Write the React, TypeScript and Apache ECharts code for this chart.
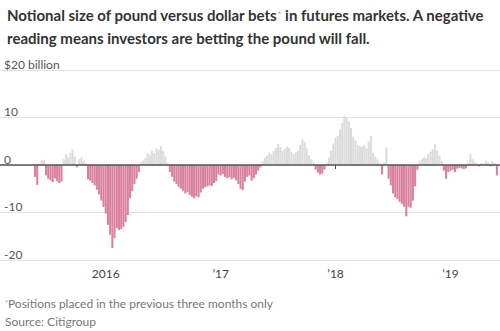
import React, { useEffect, useRef } from "react";
import * as echarts from "echarts";

const START_DATE = "2015-05-26";
const values: number[] = [
  -2.5, -4.2, 0.3, 1.0, 1.1, -2.2, -2.9, -3.2, -3.6, -2.8,
  -3.4, -3.8, -3.5, 1.2, 2.3, 1.6, 2.6, 3.3, 1.8, -0.5,
  1.2, 1.6, 0.9, 0.3, -3.0, -3.3, -3.8, -4.3, -5.2, -6.2,
  -7.5, -8.8, -10.2, -12.6, -14.7, -17.5, -15.4, -13.3, -13.7, -13.5,
  -13.0, -12.0, -10.5, -7.0, -5.5, -4.0, -2.9, -1.5, 0.6, 1.0,
  1.5, 2.5, 2.0, 3.0, 2.5, 3.5, 3.2, 4.0, 3.0, 1.8,
  0.5, -1.5, -2.5, -3.5, -4.0, -4.6, -5.0, -5.4, -6.0, -5.7,
  -6.3, -6.7, -7.0, -6.6, -6.8, -5.8, -5.0, -4.7, -4.5, -4.3,
  -4.4, -3.8, -3.4, -2.0, -2.2, -1.9, -2.5, -2.8, -2.6, -3.0,
  -2.7, -3.2, -4.0, -5.0, -5.3, -3.5, -2.5, -2.2, -3.3, -2.8,
  -2.0, -1.2, -0.5, 0.8, 1.6, 2.0, 2.6, 2.3, 3.0, 3.6,
  4.4, 3.8, 3.0, 3.4, 3.9, 3.6, 2.8, 2.3, 2.6, 3.0,
  4.2, 5.4, 4.8, 3.5, 2.0, 1.2, 0.5, -1.0, -1.6, -2.0,
  -1.8, -1.0, 0.5, 1.6, 3.0, 4.5, 5.8, 6.1, 7.5, 8.8,
  10.3, 10.0, 9.2, 7.8, 6.0, 5.2, 4.2, 4.0, 3.8, 4.2,
  3.5, 5.0, 6.1, 2.6, 1.8, 1.2, 0.4, -2.0, 0.5, 3.7,
  -2.9, -4.3, -6.0, -6.8, -7.2, -7.8, -8.2, -8.8, -10.8, -8.8,
  -9.0, -7.5, -4.5, -1.0, 0.9, 1.2, 1.6, 1.4, 2.3, 2.8,
  3.3, 4.4, 3.0, 2.0, 0.9, -1.2, -2.9, -1.5, -1.2, -1.0,
  -1.5, -0.8, -0.6, -0.7, -0.9, -0.7, 0.5, 2.3, 1.2, 0.6,
  0.3, -0.3, 0.4, 0.3, 0.9, 0.5, -0.3, 0.9, 0.4, -2.2,
];
const yTicks = [-20, -10, 0, 10, 20];
const TITLE_LINES = [
  "Notional size of pound versus dollar bets{sup|*} in futures markets. A negative",
  "reading means investors are betting the pound will fall.",
];
const FOOTNOTE = "{sup|*}Positions placed in the previous three months only";
const SOURCE = "Source: Citigroup";

const weeks: string[] = (() => {
  const out: string[] = [];
  const d0 = new Date(START_DATE + "T00:00:00Z").getTime();
  for (let i = 0; i < values.length; i++) {
    out.push(new Date(d0 + i * 7 * 86400000).toISOString().slice(0, 10));
  }
  return out;
})();

const isYearStart = (idx: number) =>
  idx > 0 && weeks[idx].slice(0, 4) !== weeks[idx - 1].slice(0, 4);

const PINK = "#d9819f";
const GREY = "#dcdcdc";
const FONT = "Lato";

export default function App() {
  const ref = useRef<HTMLDivElement>(null);
  useEffect(() => {
    if (!ref.current) return;
    const chart = echarts.init(ref.current, null, { renderer: "svg" });
    chart.setOption({
      animation: false,
      backgroundColor: "#ffffff",
      textStyle: { fontFamily: FONT },
      title: [
        {
          text: TITLE_LINES.join("\n"),
          left: 2,
          top: -2,
          textStyle: {
            fontFamily: FONT,
            fontSize: 15,
            fontWeight: "bold",
            color: "#333333",
            lineHeight: 23,
            rich: {
              sup: { fontSize: 9, fontWeight: "normal", color: "#999999", lineHeight: 23 },
            },
          },
        },
        {
          text: FOOTNOTE + "\n" + SOURCE,
          left: 0,
          top: 289,
          textStyle: {
            fontFamily: FONT,
            fontSize: 12,
            fontWeight: "normal",
            color: "#777777",
            lineHeight: 18,
            rich: {
              sup: { fontSize: 7, color: "#999999", lineHeight: 18 },
            },
          },
        },
      ],
      grid: [
        { left: 0, right: 0, top: 70, bottom: 71, containLabel: false },
        { left: 33.9, right: 2, top: 70, bottom: 71, containLabel: false },
      ],
      xAxis: [
        {
          gridIndex: 0,
          type: "value",
          min: 0,
          max: 1,
          axisLine: { show: true, onZero: true, lineStyle: { color: "#555555", width: 1.5 } },
          axisTick: { show: false },
          axisLabel: { show: false },
          splitLine: { show: false },
          z: 10,
        },
        {
          gridIndex: 1,
          type: "category",
          data: weeks,
          boundaryGap: true,
          axisLine: { show: false },
          axisTick: {
            show: true,
            alignWithLabel: true,
            length: 4,
            interval: (idx: number) => isYearStart(idx),
            lineStyle: { color: "#444444", width: 1 },
          },
          axisLabel: {
            interval: (idx: number) => isYearStart(idx),
            margin: 7,
            fontFamily: FONT,
            fontSize: 12,
            color: "#444444",
            formatter: (v: string) => {
              const y = v.slice(0, 4);
              return y === "2016" ? "2016" : "\u2019" + y.slice(2);
            },
          },
          splitLine: { show: false },
        },
      ],
      yAxis: [
        {
          gridIndex: 0,
          type: "value",
          min: yTicks[0],
          max: yTicks[yTicks.length - 1],
          interval: 10,
          axisLine: { show: false },
          axisTick: { show: false },
          axisLabel: {
            inside: true,
            margin: 4,
            verticalAlign: "bottom",
            fontFamily: FONT,
            fontSize: 12,
            color: "#555555",
            formatter: (v: number) => (v === 20 ? "$20 billion" : String(v)),
          },
          splitLine: { show: true, lineStyle: { color: "#e2e2e2", width: 1 } },
        },
        {
          gridIndex: 1,
          type: "value",
          min: yTicks[0],
          max: yTicks[yTicks.length - 1],
          interval: 10,
          show: false,
          splitLine: { show: false },
        },
      ],
      series: [
        {
          type: "bar",
          xAxisIndex: 1,
          yAxisIndex: 1,
          data: values,
          barCategoryGap: "6%",
          itemStyle: {
            color: (p: any) => (p.value >= 0 ? GREY : PINK),
          },
          z: 2,
        },
      ],
    });
    return () => chart.dispose();
  }, []);
  return <div ref={ref} style={{ width: 500, height: 331, position: "absolute", left: 0, top: 0 }} />;
}
